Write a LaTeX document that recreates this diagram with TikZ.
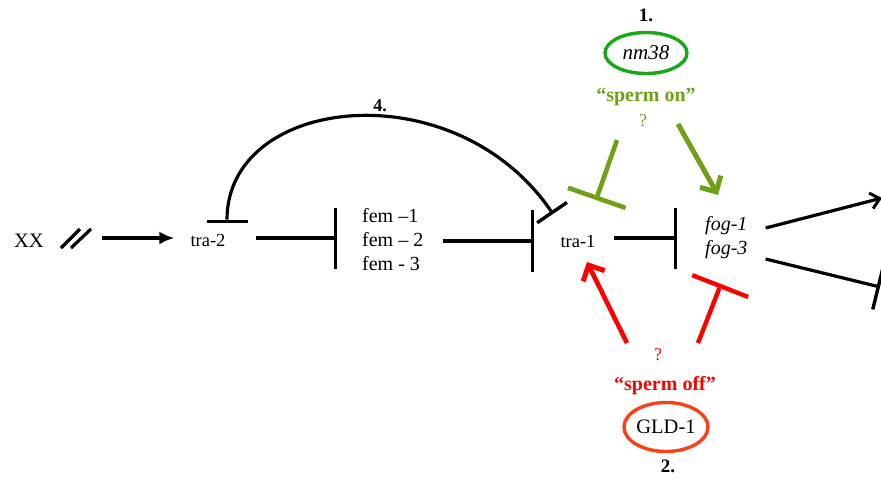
\documentclass[tikz,border=0pt]{standalone}
\usepackage{fontspec}
\setmainfont{Liberation Serif}
\usetikzlibrary{arrows.meta,shapes.geometric}
\definecolor{myolive}{RGB}{112,160,22}
\definecolor{mygreen}{RGB}{22,170,22}
\definecolor{myred}{RGB}{255,0,0}
\definecolor{myorange}{RGB}{250,64,20}
\begin{document}
\begin{tikzpicture}[x=1pt,y=-1pt,
  txt/.style={inner sep=0pt, font=\fontsize{18.5}{24}\selectfont},
  num/.style={inner sep=0pt, font=\bfseries\fontsize{19}{20}\selectfont},
  blk/.style={line width=3.2pt},
  inh/.style={blk, -{Rectangle[length=3.4pt, width=#1, line width=0pt]}},
  ginh/.style={line width=4.6pt, color=myolive, -{Rectangle[length=4.6pt, width=#1, line width=0pt]}},
  rinh/.style={line width=4.4pt, color=myred, -{Rectangle[length=4.4pt, width=#1, line width=0pt]}},
  act/.style={line width=5pt, -{Straight Barb[length=12pt, width=24pt, line width=5pt]}},
]
\useasboundingbox (0,0) rectangle (881,477);

% text nodes
\node[txt, font=\fontsize{20.5}{22}\selectfont] (xx) at (29,241) {XX};
\node[txt] (tra2) at (208,240) {tra-2};
\node[txt, font=\fontsize{20}{24}\selectfont, align=left, anchor=west] (fem) at (362,240) {fem --1\\fem -- 2\\fem - 3};
\node[txt] (tra1) at (578,241) {tra-1};
\node[txt, font=\itshape\fontsize{20}{24}\selectfont, align=left, anchor=west] (fog) at (705,238) {fog-1\\fog-3};

% slashes
\coordinate (s1a) at (61,248); \coordinate (s1b) at (80,229);
\coordinate (s2a) at (71,248); \coordinate (s2b) at (91,229);
\draw[line width=3.2pt] (s1a) -- (s1b);
\draw[line width=3.2pt] (s2a) -- (s2b);

% main chain
\coordinate (xxout) at (102,238);
\draw[blk, -{Latex[length=15pt, width=13pt]}] (xxout) -- ([xshift=-16pt]tra2.west |- 0,238);
\coordinate (bar1) at (337,238);
\draw[inh=61pt] ([xshift=30pt]tra2.east |- 0,238) -- (bar1);
\coordinate (bar2) at (534,241);
\draw[inh=62pt] ([xshift=20pt]fem.east |- 0,241) -- (bar2);
\coordinate (bar3) at (677,238);
\draw[inh=61pt] ([xshift=18pt]tra1.east |- 0,238) -- (bar3);

% fog outputs
\coordinate (outA) at (882,198);
\coordinate (outB) at (880,287);
\draw[blk, -{Straight Barb[length=9pt, width=16pt, line width=3pt]}] ([xshift=18pt]fog.east |- 0,228) -- (outA);
\draw[inh=47pt] ([xshift=18pt]fog.east |- 0,259) -- (outB);

% arc 4
\coordinate (arcL) at (227,223);
\coordinate (arcR) at (553,214);
\draw[blk, {Rectangle[length=3.4pt, width=41pt, line width=0pt]}-{Rectangle[length=3.4pt, width=36pt, line width=0pt]}]
  (arcL) .. controls (227,95) and (455,70) .. (arcR);
\node[num, font=\bfseries\fontsize{18}{20}\selectfont] (n4) at (380,106) {4.};

% nm38 (green)
\node[num] (n1) at (646,15) {1.};
\node[ellipse, draw=mygreen, line width=3.4pt, minimum width=82pt, minimum height=41pt, inner sep=0pt,
  font=\itshape\fontsize{21}{22}\selectfont] (nm) at (646,53) {nm38};
\node[txt, text=myolive, font=\bfseries\fontsize{20}{22}\selectfont] (son) at (646,97) {“sperm on”};
\node[txt, text=myolive, font=\fontsize{18}{20}\selectfont] (q1) at (643,121) {?};
\coordinate (gA) at (617,140);
\coordinate (gbar) at (596,200);
\draw[ginh=61pt] (gA) -- (gbar);
\coordinate (gB) at (678,124);
\coordinate (gtip) at (718,195);
\draw[act, color=myolive] (gB) -- (gtip);

% GLD-1 (red)
\coordinate (rA) at (627,343);
\coordinate (rtip) at (587,262);
\draw[act, color=myred, line width=4.6pt] (rA) -- (rtip);
\coordinate (rB) at (698,343);
\coordinate (rbar) at (721,284);
\draw[rinh=60pt] (rB) -- (rbar);
\node[txt, text=myred, font=\fontsize{18}{20}\selectfont] (q2) at (658,355) {?};
\node[txt, text=myred, font=\bfseries\fontsize{20}{22}\selectfont] (soff) at (665,386) {“sperm off”};
\node[ellipse, draw=myorange, line width=3.4pt, minimum width=84pt, minimum height=49pt, inner sep=0pt,
  font=\fontsize{20.5}{22}\selectfont] (gld) at (666,427) {GLD-1};
\node[num] (n2) at (668,466) {2.};
\end{tikzpicture}
\end{document}
